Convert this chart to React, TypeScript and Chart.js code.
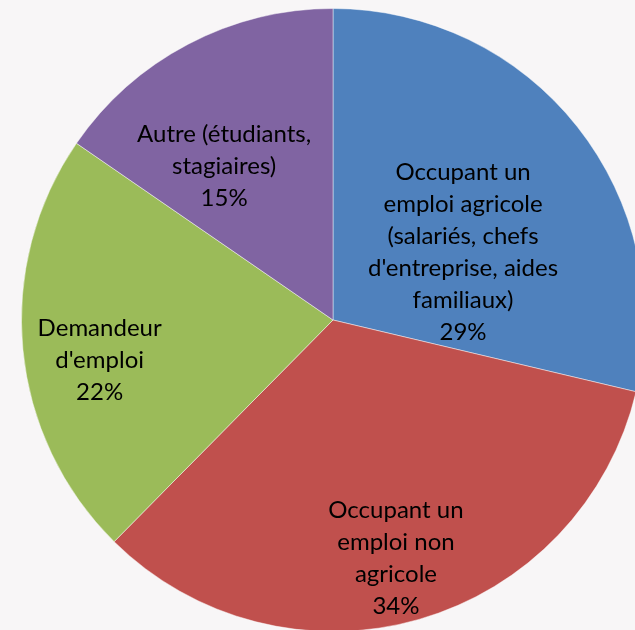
import React, { useEffect, useRef } from "react";
import { Chart, registerables } from "chart.js";

Chart.register(...registerables);

const categories = [
  ["Occupant un", "emploi agricole", "(salariés, chefs", "d'entreprise, aides", "familiaux)"],
  ["Occupant un", "emploi non", "agricole"],
  ["Demandeur", "d'emploi"],
  ["Autre (étudiants,", "stagiaires)"],
];
const values = [28.7, 33.7, 22.2, 15.4];
const colors = ["#4F81BD", "#C0504D", "#9BBB59", "#8064A2"];
// label placement: fraction of radius, angle offset (degrees) from the slice's mid-angle
const labelRadius = [0.47, 0.79, 0.76, 0.606];
const labelAngleOffset = [11, 1.2, -4.3, -7.5];

const labelPlugin = {
  id: "sliceLabels",
  afterDatasetsDraw(chart: any) {
    const ctx = chart.ctx;
    const meta = chart.getDatasetMeta(0);
    const total = values.reduce((a, b) => a + b, 0);
    ctx.save();
    ctx.fillStyle = "#000000";
    ctx.font = "24px Lato";
    ctx.textAlign = "center";
    ctx.textBaseline = "middle";
    const lh = 32;
    meta.data.forEach((arc: any, i: number) => {
      const p = arc.getProps(["x", "y", "startAngle", "endAngle", "outerRadius"], true);
      const a = (p.startAngle + p.endAngle) / 2 + (labelAngleOffset[i] * Math.PI) / 180;
      const r = p.outerRadius * labelRadius[i];
      const cx = p.x + Math.cos(a) * r;
      const cy = p.y + Math.sin(a) * r;
      const lines = [...categories[i], Math.round((values[i] / total) * 100) + "%"];
      const top = cy - ((lines.length - 1) * lh) / 2;
      lines.forEach((t, k) => ctx.fillText(t, cx, top + k * lh));
    });
    ctx.restore();
  },
};

export default function App() {
  const ref = useRef<HTMLCanvasElement>(null);
  useEffect(() => {
    if (!ref.current) return;
    const chart = new Chart(ref.current, {
      type: "pie",
      data: {
        labels: categories.map((c) => c.join(" ")),
        datasets: [
          {
            data: values,
            backgroundColor: colors,
            borderColor: "rgba(255,255,255,0.45)",
            borderWidth: 1,
          },
        ],
      },
      options: {
        responsive: false,
        animation: false,
        layout: { padding: 8 },
        plugins: {
          legend: { display: false },
          tooltip: { enabled: false },
        },
      },
      plugins: [labelPlugin],
    });
    return () => chart.destroy();
  }, []);
  return (
    <div
      style={{
        position: "fixed",
        left: 0,
        top: 0,
        width: 635,
        height: 630,
        overflow: "hidden",
        background: "#F8F6F7",
      }}
    >
      <canvas ref={ref} width={666} height={640} style={{ display: "block" }} />
    </div>
  );
}
